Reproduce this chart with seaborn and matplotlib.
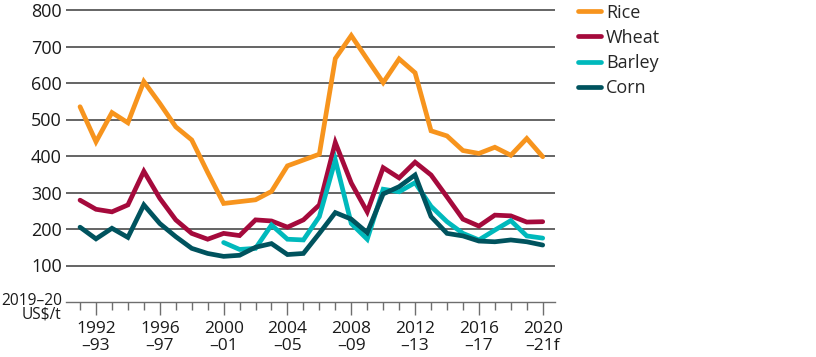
import numpy as np
import pandas as pd
import matplotlib
matplotlib.use("Agg")
import matplotlib.pyplot as plt
import matplotlib.transforms as mtransforms
import seaborn as sns

years = list(range(1991, 2021))
rice = [535, 439, 519, 491, 604, 544, 480, 444, 355, 270, 275, 280, 303, 373, 389, 405,
        667, 730, 665, 601, 666, 628, 469, 455, 415, 407, 424, 402, 448, 398]
wheat = [279, 254, 247, 266, 358, 284, 225, 188, 172, 188, 182, 225, 222, 205, 225, 266,
         437, 326, 247, 368, 340, 383, 348, 288, 227, 208, 238, 236, 219, 220]
barley = [np.nan] * 9 + [163, 144, 147, 211, 172, 170, 234, 389, 215, 172, 309, 302, 327,
                         262, 220, 188, 170, 197, 223, 181, 175]
corn = [205, 173, 202, 177, 266, 215, 179, 147, 133, 125, 128, 150, 160, 130, 133, 188,
        245, 227, 190, 296, 316, 348, 234, 188, 181, 167, 165, 170, 165, 156]

series_names = ["Rice", "Wheat", "Barley", "Corn"]
colors = ["#F7941D", "#A50A3C", "#00B9BC", "#00535E"]
major_years = [1992, 1996, 2000, 2004, 2008, 2012, 2016, 2020]
major_labels = ["1992\n\u201393", "1996\n\u201397", "2000\n\u201301", "2004\n\u201305",
                "2008\n\u201309", "2012\n\u201313", "2016\n\u201317", "2020\n\u201321f"]
ytick_vals = [100, 200, 300, 400, 500, 600, 700, 800]
unit_label = "2019\u201320\nUS$/t"

df = pd.DataFrame({"Year": years * 4,
                   "Price": rice + wheat + barley + corn,
                   "Crop": sum([[n] * len(years) for n in series_names], [])})

sns.set_theme(style="white")
plt.rcParams["font.family"] = ["Open Sans", "DejaVu Sans"]
plt.rcParams["font.size"] = 13

W, H = 816, 357
fig = plt.figure(figsize=(W / 100, H / 100), dpi=100)
px_per_unit = 292 / 800
ytop = 810
ax = fig.add_axes([66 / W, 1 - 302 / H, (555 - 66) / W, ytop * px_per_unit / H])

for y in ytick_vals:
    ax.axhline(y, color="#4a4a4a", lw=1.2, zorder=0)

sns.lineplot(data=df, x="Year", y="Price", hue="Crop", hue_order=series_names,
             palette=colors, linewidth=3.4, ax=ax, legend=True, zorder=3)
for line in ax.lines:
    line.set_solid_joinstyle("miter")

ax.set_xlim(1990.12, 2020.77)
ax.set_ylim(0, ytop)
ax.set_xlabel("")
ax.set_ylabel("")
for s in ["top", "right", "left"]:
    ax.spines[s].set_visible(False)
ax.spines["bottom"].set_color("#6e6e6e")
ax.spines["bottom"].set_linewidth(1.0)

ax.set_yticks(ytick_vals)
ax.set_yticklabels([str(v) for v in ytick_vals], fontsize=13, color="#1a1a1a")
ax.tick_params(axis="y", length=0, pad=3)

ax.set_xticks(major_years)
ax.set_xticklabels(major_labels, fontsize=12.5, color="#1a1a1a", linespacing=1.08)
ax.set_xticks(years, minor=True)
ax.tick_params(axis="x", which="major", length=9.5, width=1.0, color="#6e6e6e",
               pad=4, direction="out", bottom=True)
ax.tick_params(axis="x", which="minor", length=5.5, width=1.0, color="#6e6e6e",
               direction="out", bottom=True)

trans = mtransforms.blended_transform_factory(ax.transAxes, ax.transData)
ax.annotate(unit_label, xy=(0, 0), xycoords=trans, xytext=(-3, 6.5),
            textcoords="offset points", ha="right", va="top",
            fontsize=11.2, color="#1a1a1a", linespacing=0.78)

leg = ax.legend(loc="upper left", bbox_to_anchor=(578 / W, 1 - 3.5 / H),
                bbox_transform=fig.transFigure, frameon=False, fontsize=13,
                handlelength=1.3, handletextpad=0.25, labelspacing=0.40,
                borderpad=0, borderaxespad=0)
for h in leg.get_lines():
    h.set_linewidth(3.4)
    h.set_solid_capstyle("round")

fig.savefig("out.png", dpi=100)
